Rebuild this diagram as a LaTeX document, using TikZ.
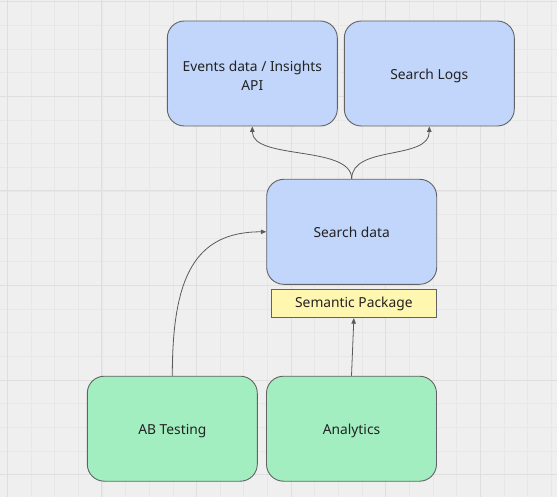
\documentclass[tikz,border=0pt]{standalone}
\usepackage{fontspec}
\setmainfont{Noto Sans}
\usetikzlibrary{arrows.meta}
\definecolor{bgc}{HTML}{EFEFEF}
\definecolor{minorc}{HTML}{E7E7E7}
\definecolor{majorc}{HTML}{DFDFDF}
\definecolor{bluef}{HTML}{C1D6FA}
\definecolor{greenf}{HTML}{A3EEC0}
\definecolor{yellowf}{HTML}{FFF6B0}
\definecolor{borderc}{HTML}{636363}
\definecolor{textc}{HTML}{222222}
\definecolor{linec}{HTML}{5A5A5A}
\tikzset{
  card/.style={draw=borderc, line width=0.9pt, rounded corners=17pt,
    minimum width=170pt, minimum height=105pt, inner sep=0pt,
    font=\fontsize{13.8}{19}\selectfont, text=textc, align=center},
  onecard/.style={card, text height=15pt, text depth=3.5pt},
  bluecard/.style={onecard, fill=bluef},
  greencard/.style={onecard, fill=greenf},
  twocard/.style={card, fill=bluef},
  tag/.style={draw=borderc, line width=0.9pt, fill=yellowf,
    minimum width=165.7pt, minimum height=28.4pt, inner sep=0pt,
    font=\fontsize{13.8}{19}\selectfont, text=textc},
  arr/.style={draw=linec, line width=0.8pt,
    -{Stealth[length=5.5pt, width=4.5pt, inset=0pt]}},
}
\begin{document}
\begin{tikzpicture}[x=1pt, y=-1pt]
\useasboundingbox (0,0) rectangle (557,497);
\fill[bgc] (0,0) rectangle (557,497);
% minor grid
\foreach \i in {-1,...,23} {
  \draw[minorc, line width=0.7pt] ({7.3+23.65*\i},0) -- ({7.3+23.65*\i},497);
}
\foreach \i in {0,...,21} {
  \draw[minorc, line width=0.7pt] (0,{1.7+23.65*\i}) -- (557,{1.7+23.65*\i});
}
% major grid
\foreach \i in {0,...,5} {
  \draw[majorc, line width=1.1pt] ({7.3+94.6*\i},0) -- ({7.3+94.6*\i},497);
  \draw[majorc, line width=1.1pt] (0,{1.7+94.6*\i}) -- (557,{1.7+94.6*\i});
}
% nodes
\node[twocard] (ev) at (252.3,73.5) {\rule{0pt}{15pt}Events data / Insights\\API};
\node[bluecard] (sl) at (429.3,73.5) {Search Logs};
\node[bluecard] (sd) at (351.7,231.8) {Search data};
\node[tag] (sp) at (353.85,303.5) {Semantic Package};
\node[greencard] (ab) at (172.3,428.7) {AB Testing};
\node[greencard] (an) at (351.5,428.7) {Analytics};
% connectors
\draw[arr] (sd.north) .. controls +(0,-34) and +(0,34) .. (ev.south);
\draw[arr] (sd.north) .. controls +(0,-34) and +(0,34) .. (sl.south);
\draw[arr] (ab.north) .. controls +(0,-98) and +(-72,0) .. (sd.west);
\draw[arr] (an.north) -- (sp.south);
\end{tikzpicture}
\end{document}
